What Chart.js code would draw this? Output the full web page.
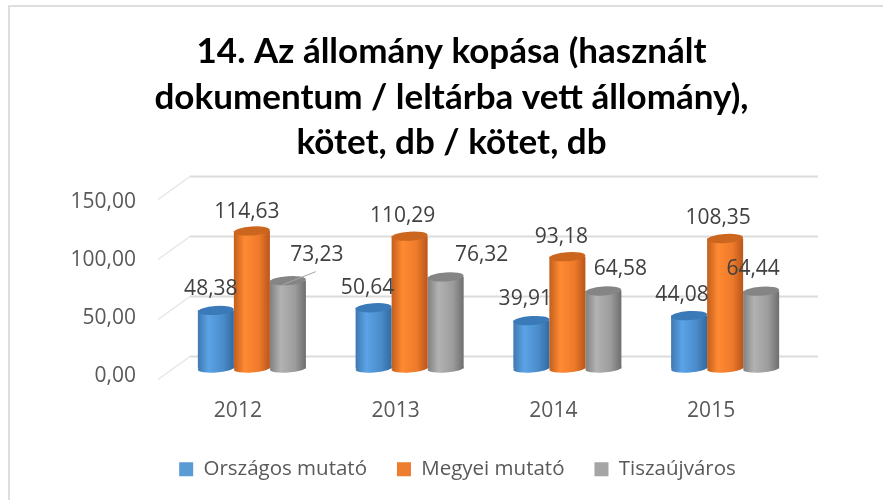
<!DOCTYPE html>
<html><head><meta charset="utf-8">
<style>html,body{margin:0;padding:0;background:#fff}canvas{display:block;filter:blur(0.45px)}</style>
<script src="https://cdn.jsdelivr.net/npm/chart.js@4"></script></head>
<body><canvas id="c" width="883" height="500" style="width:883px;height:500px"></canvas>
<script>
const categories=['2012','2013','2014','2015'];
const orszagos=[48.38,50.64,39.91,44.08];
const megyei=[114.63,110.29,93.18,108.35];
const tisza=[73.23,76.32,64.58,64.44];
const seriesNames=['Országos mutató','Megyei mutató','Tiszaújváros'];
const seriesColors=['#5B9BD5','#ED7D31','#A5A5A5'];
const yTicks=[0,50,100,150];
const shade={
 '#5B9BD5':['#3f78b0','#5ba3e6','#4a8ccb','#336a9e','#3a7ab8'],
 '#ED7D31':['#c25e1c','#ff8a33','#ee7a2a','#b9561a','#cc661f'],
 '#A5A5A5':['#808080','#b2b2b2','#9c9c9c','#6e6e6e','#858585']};
// label nudges from the bar top [dx,dy], per series and category
const labelNudge=[
 [[-5,-21],[-6,-20],[-6,-22],[-7,-21]],
 [[-5,-19],[-7,-20],[-6,-20],[-7,-20]],
 [[29,-26],[36,-22],[17,-22],[-8,-22]]];
const fmt=v=>v.toFixed(2).replace('.',',');
const FONT='"Open Sans", sans-serif';

const cyl={id:'cyl',
 afterDatasetsUpdate(chart){
  chart.data.datasets.forEach((ds,i)=>{
   const s=shade[ds.backgroundColor];
   chart.getDatasetMeta(i).data.forEach(el=>{
    const L=el.x-el.width/2,R=el.x+el.width/2;
    const g=chart.ctx.createLinearGradient(L,0,R,0);
    g.addColorStop(0,s[0]);g.addColorStop(.3,s[1]);g.addColorStop(.7,s[2]);g.addColorStop(1,s[3]);
    el.options=Object.assign(Object.create(el.options),{backgroundColor:g});
   });
  });
 },
 afterLayout(chart){const l=chart.legend;l.left+=6;l.right+=6;l.top+=5.5;l.bottom+=5.5;},
 beforeDraw(chart){
  const c=chart.ctx;c.save();c.fillStyle='#fff';c.fillRect(0,0,883,500);
  c.fillStyle='#dedede';c.fillRect(8,5,875,2);c.fillRect(8,5,2,495);c.restore();
 },
 beforeDatasetsDraw(chart){
  const c=chart.ctx,y=chart.scales.y,a=chart.chartArea;
  c.save();
  yTicks.forEach(t=>{
   const p=y.getPixelForValue(t);
   c.strokeStyle='#dcdcdc';c.lineWidth=2;
   c.beginPath();c.moveTo(a.left+17,p-12);c.lineTo(a.right+14,p-12);c.stroke();
   c.strokeStyle='#e6e6e6';c.lineWidth=1.5;
   c.beginPath();c.moveTo(a.left-15,p+11);c.lineTo(a.left+17,p-12);c.stroke();
  });
  c.restore();
 },
 afterDatasetDraw(chart,args){
  const c=chart.ctx,s=shade[chart.data.datasets[args.index].backgroundColor];
  args.meta.data.forEach(el=>{
   c.save();
   const r=el.width/2;
   c.fillStyle=el.options.backgroundColor;
   c.beginPath();c.ellipse(el.x,el.base,r,4,-0.07,0,Math.PI*2);c.fill();
   c.fillStyle=s[4];
   c.beginPath();c.ellipse(el.x,el.y,r,4.5,-0.07,0,Math.PI*2);c.fill();
   c.restore();
  });
 },
 afterDraw(chart){
  const c=chart.ctx;c.save();
  c.font='21px '+FONT;c.fillStyle='#404040';c.textAlign='center';c.textBaseline='middle';
  chart.data.datasets.forEach((ds,i)=>{
   chart.getDatasetMeta(i).data.forEach((el,j)=>{
    const n=labelNudge[i][j];
    c.fillText(fmt(ds.data[j]),el.x+n[0],el.y+n[1]);
   });
  });
  const lead=chart.getDatasetMeta(2).data[0];
  c.strokeStyle='#a6a6a6';c.lineWidth=1;c.beginPath();
  c.moveTo(lead.x-5,lead.y+4);c.lineTo(lead.x+28,lead.y-9);c.stroke();
  c.restore();
 }};

new Chart(document.getElementById('c'),{
 type:'bar',
 data:{labels:categories,datasets:[
  {label:seriesNames[0],data:orszagos,backgroundColor:seriesColors[0],categoryPercentage:.685,barPercentage:1,borderWidth:0},
  {label:seriesNames[1],data:megyei,backgroundColor:seriesColors[1],categoryPercentage:.685,barPercentage:1,borderWidth:0},
  {label:seriesNames[2],data:tisza,backgroundColor:seriesColors[2],categoryPercentage:.685,barPercentage:1,borderWidth:0}]},
 plugins:[cyl],
 options:{responsive:false,animation:false,
  layout:{padding:{left:20,right:0,top:0,bottom:16}},
  scales:{
   x:{grid:{display:false,drawTicks:false},border:{display:false},
      afterFit(s){s.height=44;},
      ticks:{labelOffset:-14,padding:19,color:'#595959',font:{family:FONT,size:21},maxRotation:0}},
   y:{display:false,min:-11/1.2,max:199/1.2},
   yLabels:{position:'left',min:-3/1.16,max:207/1.16,
      grid:{display:false,drawTicks:false},border:{display:false},
      afterBuildTicks(s){s.ticks=yTicks.map(v=>({value:v}));},
      afterFit(s){s.width=153;},
      ticks:{padding:37,color:'#595959',font:{family:FONT,size:21},callback:v=>fmt(v)}},
   yPad:{position:'right',grid:{display:false,drawTicks:false},border:{display:false},
      ticks:{display:false},afterFit(s){s.width=79;}}
  },
  plugins:{
   tooltip:{enabled:false},
   title:{display:true,text:['14. Az állomány kopása (használt','dokumentum / leltárba vett állomány),','kötet, db / kötet, db'],
     color:'#000',font:{family:'Lato, sans-serif',size:35,weight:'bold',lineHeight:45.5/35},padding:{top:29,bottom:4}},
   legend:{position:'bottom',labels:{boxWidth:14,boxHeight:14,padding:30,color:'#595959',font:{family:FONT,size:20.5}}}
  }}
});
</script></body></html>
